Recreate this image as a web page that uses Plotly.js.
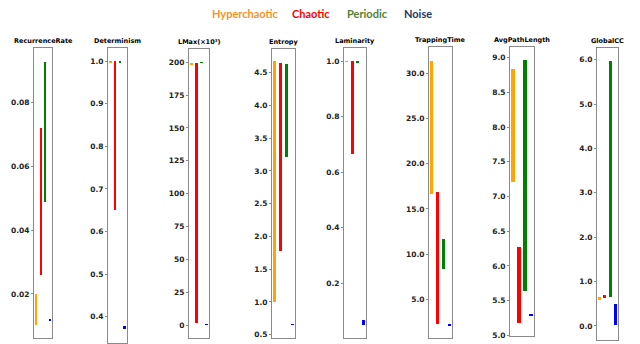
<!DOCTYPE html>
<html>
<head>
<meta charset="utf-8">
<script src="https://cdn.plot.ly/plotly-3.0.1.min.js"></script>
<style>
  html, body { margin: 0; padding: 0; background: #fff; }
  #chart { width: 640px; height: 344px; }
</style>
</head>
<body>
<div id="chart"></div>
<script>
// categories and their colours
const categories = ['Hyperchaotic', 'Chaotic', 'Periodic', 'Noise'];
const barColors = ['#FFA500', '#FF0000', '#008000', '#0000FF'];
const legendColors = ['#F7931E', '#FF0000', '#538135', '#1F3864'];

// one entry per measure (subplot)
const metrics = ['RecurrenceRate', 'Determinism', 'LMax(×10³)', 'Entropy',
                 'Laminarity', 'TrappingTime', 'AvgPathLength', 'GlobalCC'];

// min / max of each category for each measure
const hyperLow     = [0.0102, 0.996, 198.0, 1.000, 0.996, 16.68, 7.207, 0.586];
const hyperHigh    = [0.0200, 1.000, 199.5, 4.678, 1.000, 31.40, 8.841, 0.662];
const chaoticLow   = [0.0259, 0.651, 1.8, 1.785, 0.667, 2.27, 5.183, 0.620];
const chaoticHigh  = [0.0719, 1.000, 199.5, 4.653, 1.000, 16.90, 6.269, 0.700];
const periodicLow  = [0.0489, 0.996, 199.3, 3.218, 0.995, 8.30, 5.635, 0.660];
const periodicHigh = [0.0927, 1.000, 200.5, 4.637, 1.002, 11.62, 8.962, 5.970];
const noiseLow     = [0.0115, 0.372, 0.0, 0.645, 0.0486, 2.05, 5.280, 0.020];
const noiseHigh    = [0.0122, 0.378, 1.0, 0.670, 0.0667, 2.20, 5.300, 0.489];

// axis settings per subplot
const yRanges = [[0.0062, 0.097], [0.338, 1.031], [-9.6, 210], [0.45, 4.86],
                 [0.003, 1.048], [0.69, 32.95], [4.99, 9.154], [-0.316, 6.263]];
const yDticks = [0.02, 0.1, 25, 0.5, 0.2, 5, 0.5, 1];
const yFormats = ['.2f', '.1f', 'd', '.1f', '.1f', '.1f', '.1f', '.1f'];

// pixel boxes of each subplot
const boxLeft   = [34, 108, 189, 272, 344, 429, 510, 597];
const boxRight  = [52, 127, 209, 295, 366, 452, 534, 618];
const boxTop    = [48, 48, 49, 49, 48, 47, 47, 48];
const boxBottom = [338, 343, 338, 338, 338, 338, 336, 340];

const W = 640, H = 344;
const lows = [hyperLow, chaoticLow, periodicLow, noiseLow];
const highs = [hyperHigh, chaoticHigh, periodicHigh, noiseHigh];

const traces = [];
const layout = {
    width: W,
    height: H,
    margin: {l: 0, r: 0, t: 0, b: 0},
    paper_bgcolor: '#fff',
    plot_bgcolor: '#fff',
    showlegend: false,
    bargap: 0,
    font: {family: 'DejaVu Sans', color: '#222'},
    annotations: []
};

metrics.forEach((name, m) => {
    const sfx = m === 0 ? '' : String(m + 1);
    traces.push({
        type: 'bar',
        x: [0, 1, 2, 3],
        base: lows.map(arr => arr[m]),
        y: highs.map((arr, c) => arr[m] - lows[c][m]),
        width: 0.55,
        marker: {color: barColors, line: {width: 0}},
        xaxis: 'x' + sfx,
        yaxis: 'y' + sfx,
        hoverinfo: 'skip'
    });

    layout['xaxis' + sfx] = {
        domain: [boxLeft[m] / W, boxRight[m] / W],
        range: [-0.5, 3.5],
        anchor: 'y' + sfx,
        showticklabels: false,
        showgrid: false,
        zeroline: false,
        showline: true,
        mirror: true,
        linecolor: '#8a8a8a',
        linewidth: 1,
        fixedrange: true
    };
    layout['yaxis' + sfx] = {
        domain: [1 - boxBottom[m] / H, 1 - boxTop[m] / H],
        range: yRanges[m],
        anchor: 'x' + sfx,
        dtick: yDticks[m],
        tickformat: yFormats[m],
        showgrid: false,
        zeroline: false,
        showline: true,
        mirror: true,
        linecolor: '#8a8a8a',
        linewidth: 1,
        ticks: 'outside',
        ticklen: 2,
        tickcolor: '#8a8a8a',
        tickwidth: 1,
        tickfont: {size: 7.5, family: 'DejaVu Sans', weight: 'bold', color: '#222'},
        fixedrange: true
    };

    layout.annotations.push({
        text: '<b>' + name + '</b>',
        xref: 'paper',
        yref: 'paper',
        x: (boxLeft[m] + boxRight[m]) / 2 / W,
        y: 1 - boxTop[m] / H,
        xanchor: 'center',
        yanchor: 'bottom',
        yshift: 1,
        showarrow: false,
        font: {size: 6.5, family: 'DejaVu Sans', color: '#000'}
    });
});

// text-only legend at the top
const legendX = [245, 311, 367, 418];
categories.forEach((cat, i) => {
    layout.annotations.push({
        text: '<b>' + cat + '</b>',
        xref: 'paper',
        yref: 'paper',
        x: legendX[i] / W,
        y: 1 - 14 / H,
        xanchor: 'center',
        yanchor: 'middle',
        showarrow: false,
        font: {size: 11, family: 'Lato', color: legendColors[i]}
    });
});

Plotly.newPlot('chart', traces, layout, {displayModeBar: false, staticPlot: true});
</script>
</body>
</html>
